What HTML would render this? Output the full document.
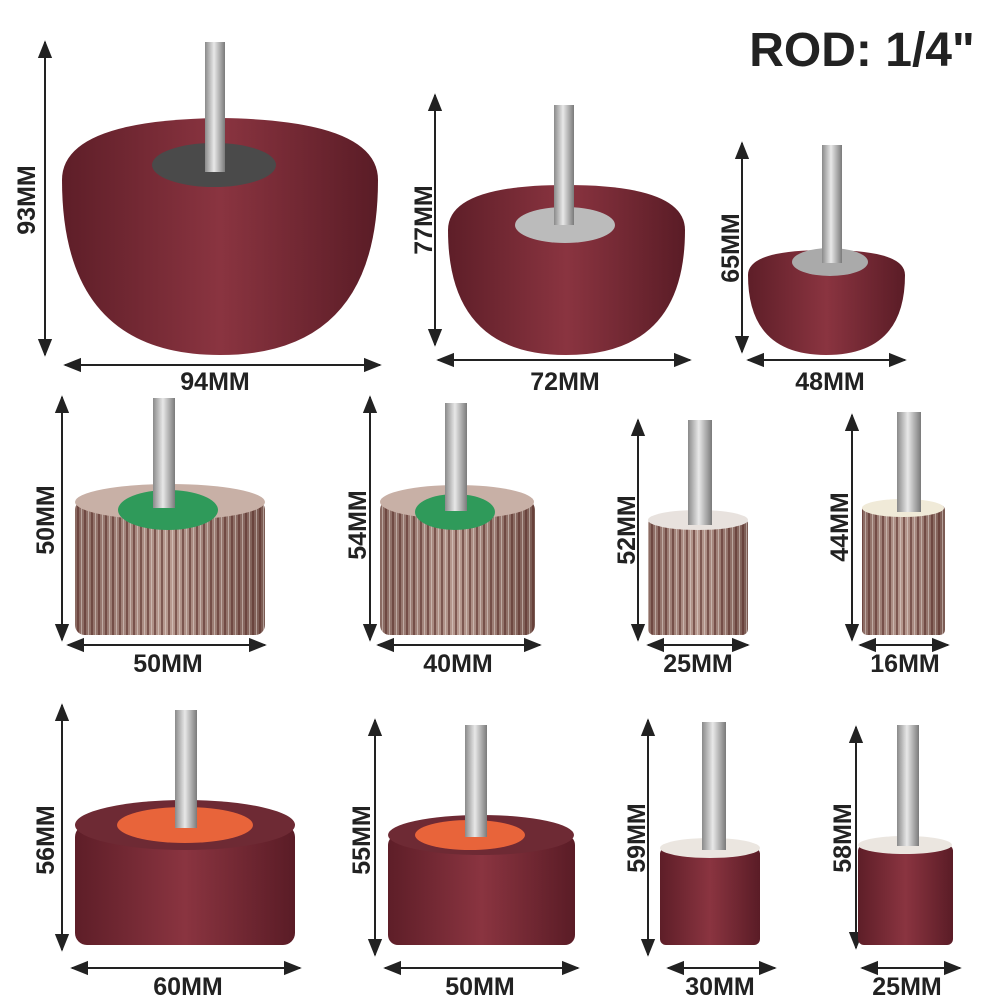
<!DOCTYPE html>
<html><head><meta charset="utf-8"><style>
html,body{margin:0;padding:0;background:#fff;width:1000px;height:1000px;overflow:hidden}
text{font-family:"Liberation Sans",sans-serif;font-weight:bold;fill:#222}
</style></head><body>
<svg width="1000" height="1000" viewBox="0 0 1000 1000" xmlns="http://www.w3.org/2000/svg">
<defs>
<marker id="a" viewBox="0 0 10 10" refX="9" refY="5" markerWidth="9" markerHeight="9" orient="auto-start-reverse"><path d="M0,1 L10,5 L0,9 z" fill="#222"/></marker>
<linearGradient id="sh" x1="0" x2="1"><stop offset="0" stop-color="#8a8a8a"/><stop offset=".45" stop-color="#e8e8e8"/><stop offset="1" stop-color="#7a7a7a"/></linearGradient>
<linearGradient id="mr" x1="0" x2="1"><stop offset="0" stop-color="#5e1e28"/><stop offset=".5" stop-color="#8a3440"/><stop offset="1" stop-color="#5a1c26"/></linearGradient>
<linearGradient id="fl" x1="0" x2="1"><stop offset="0" stop-color="#8a6a62"/><stop offset=".5" stop-color="#b89a90"/><stop offset="1" stop-color="#7a5a52"/></linearGradient>
<pattern id="st" width="7" height="10" patternUnits="userSpaceOnUse"><rect x="0" width="2" height="10" fill="#5a2e2a" opacity=".6"/><rect x="4" width="1" height="10" fill="#e8ddd8" opacity=".5"/></pattern>
</defs>
<g stroke="#222" stroke-width="2" marker-start="url(#a)" marker-end="url(#a)">
<line x1="45" y1="42" x2="45" y2="355"/><line x1="65" y1="365" x2="380" y2="365"/>
<line x1="435" y1="95" x2="435" y2="345"/><line x1="438" y1="360" x2="690" y2="360"/>
<line x1="742" y1="143" x2="742" y2="352"/><line x1="748" y1="360" x2="905" y2="360"/>
<line x1="62" y1="397" x2="62" y2="640"/><line x1="68" y1="645" x2="265" y2="645"/>
<line x1="370" y1="397" x2="370" y2="640"/><line x1="378" y1="645" x2="540" y2="645"/>
<line x1="638" y1="420" x2="638" y2="640"/><line x1="648" y1="645" x2="748" y2="645"/>
<line x1="852" y1="415" x2="852" y2="640"/><line x1="860" y1="645" x2="948" y2="645"/>
<line x1="62" y1="705" x2="62" y2="950"/><line x1="72" y1="968" x2="300" y2="968"/>
<line x1="375" y1="720" x2="375" y2="955"/><line x1="385" y1="968" x2="578" y2="968"/>
<line x1="648" y1="720" x2="648" y2="955"/><line x1="668" y1="968" x2="775" y2="968"/>
<line x1="856" y1="727" x2="856" y2="948"/><line x1="862" y1="968" x2="960" y2="968"/>
</g>
<path d="M62,180 Q62,120 220,118 Q378,120 378,180 Q378,355 220,355 Q62,355 62,180z" fill="url(#mr)"/>
<ellipse cx="214" cy="165" rx="62" ry="22" fill="#4a4a4a"/>
<rect x="205" y="42" width="20" height="130" fill="url(#sh)"/>
<path d="M448,230 Q448,185 566,185 Q685,185 685,230 Q685,355 566,355 Q448,355 448,230z" fill="url(#mr)"/>
<ellipse cx="565" cy="225" rx="50" ry="18" fill="#bbb"/>
<rect x="554" y="105" width="20" height="120" fill="url(#sh)"/>
<path d="M748,275 Q748,250 826,250 Q905,250 905,275 Q905,355 826,355 Q748,355 748,275z" fill="url(#mr)"/>
<ellipse cx="830" cy="262" rx="38" ry="14" fill="#aaa"/>
<rect x="822" y="145" width="20" height="118" fill="url(#sh)"/>
<rect x="75" y="500" width="190" height="135" rx="10" fill="url(#fl)"/><rect x="75" y="500" width="190" height="135" rx="10" fill="url(#st)"/>
<ellipse cx="170" cy="502" rx="95" ry="18" fill="#c8b0a6"/><ellipse cx="168" cy="510" rx="50" ry="20" fill="#2f9a5a"/>
<rect x="153" y="398" width="22" height="110" fill="url(#sh)"/>
<rect x="380" y="500" width="155" height="135" rx="10" fill="url(#fl)"/><rect x="380" y="500" width="155" height="135" rx="10" fill="url(#st)"/>
<ellipse cx="457" cy="502" rx="77" ry="17" fill="#c8b0a6"/><ellipse cx="455" cy="512" rx="40" ry="18" fill="#2f9a5a"/>
<rect x="445" y="403" width="22" height="108" fill="url(#sh)"/>
<rect x="648" y="518" width="100" height="117" rx="6" fill="url(#fl)"/><rect x="648" y="518" width="100" height="117" rx="6" fill="url(#st)"/>
<ellipse cx="698" cy="520" rx="50" ry="10" fill="#e8e2de"/>
<rect x="688" y="420" width="24" height="105" fill="url(#sh)"/>
<rect x="862" y="505" width="83" height="130" rx="5" fill="url(#fl)"/><rect x="862" y="505" width="83" height="130" rx="5" fill="url(#st)"/>
<ellipse cx="903" cy="508" rx="41" ry="9" fill="#f0ead8"/>
<rect x="897" y="412" width="24" height="100" fill="url(#sh)"/>
<rect x="75" y="825" width="220" height="120" rx="12" fill="url(#mr)"/>
<ellipse cx="185" cy="825" rx="110" ry="25" fill="#6e2a34"/><ellipse cx="185" cy="825" rx="68" ry="18" fill="#e8643a"/>
<rect x="175" y="710" width="22" height="118" fill="url(#sh)"/>
<rect x="388" y="835" width="187" height="110" rx="10" fill="url(#mr)"/>
<ellipse cx="481" cy="835" rx="93" ry="20" fill="#6e2a34"/><ellipse cx="470" cy="835" rx="55" ry="15" fill="#e8643a"/>
<rect x="465" y="725" width="22" height="112" fill="url(#sh)"/>
<rect x="660" y="848" width="100" height="97" rx="6" fill="url(#mr)"/>
<ellipse cx="710" cy="848" rx="50" ry="10" fill="#ebe6e0"/>
<rect x="702" y="722" width="24" height="128" fill="url(#sh)"/>
<rect x="858" y="845" width="95" height="100" rx="6" fill="url(#mr)"/>
<ellipse cx="905" cy="845" rx="47" ry="9" fill="#ebe6e0"/>
<rect x="897" y="725" width="22" height="121" fill="url(#sh)"/>
<text x="862" y="66" font-size="48" text-anchor="middle">ROD: 1/4"</text>
<g font-size="25">
<text x="215" y="390" text-anchor="middle">94MM</text>
<text x="565" y="390" text-anchor="middle">72MM</text>
<text x="830" y="390" text-anchor="middle">48MM</text>
<text x="168" y="672" text-anchor="middle">50MM</text>
<text x="458" y="672" text-anchor="middle">40MM</text>
<text x="698" y="672" text-anchor="middle">25MM</text>
<text x="905" y="672" text-anchor="middle">16MM</text>
<text x="188" y="995" text-anchor="middle">60MM</text>
<text x="480" y="995" text-anchor="middle">50MM</text>
<text x="720" y="995" text-anchor="middle">30MM</text>
<text x="907" y="995" text-anchor="middle">25MM</text>
<text transform="translate(35,200) rotate(-90)" text-anchor="middle">93MM</text>
<text transform="translate(432,220) rotate(-90)" text-anchor="middle">77MM</text>
<text transform="translate(739,248) rotate(-90)" text-anchor="middle">65MM</text>
<text transform="translate(54,520) rotate(-90)" text-anchor="middle">50MM</text>
<text transform="translate(366,525) rotate(-90)" text-anchor="middle">54MM</text>
<text transform="translate(635,530) rotate(-90)" text-anchor="middle">52MM</text>
<text transform="translate(848,527) rotate(-90)" text-anchor="middle">44MM</text>
<text transform="translate(54,840) rotate(-90)" text-anchor="middle">56MM</text>
<text transform="translate(370,840) rotate(-90)" text-anchor="middle">55MM</text>
<text transform="translate(645,838) rotate(-90)" text-anchor="middle">59MM</text>
<text transform="translate(851,838) rotate(-90)" text-anchor="middle">58MM</text>
</g>
</svg>
</body></html>
